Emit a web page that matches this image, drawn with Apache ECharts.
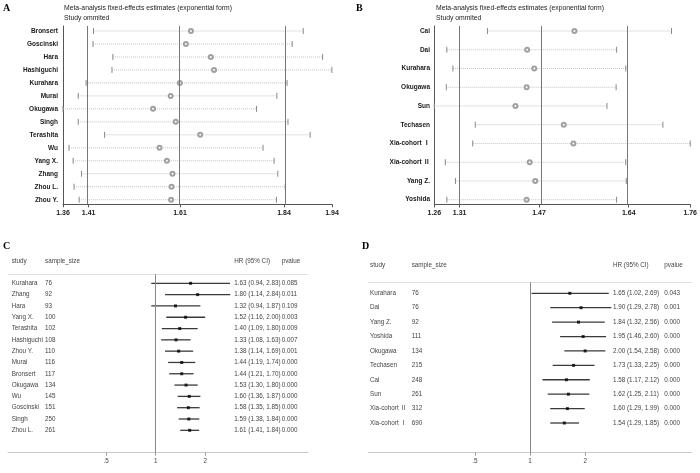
<!DOCTYPE html>
<html>
<head>
<meta charset="utf-8">
<script src="https://cdn.jsdelivr.net/npm/echarts@6/dist/echarts.min.js"></script>
<style>
  html, body { margin: 0; padding: 0; background: #fff; }
  #chart { width: 700px; height: 473px; }
</style>
</head>
<body>
<div id="chart"></div>
<script>
// ---- A: study omitted, 14 studies ----
const studiesA = ['Bronsert', 'Goscinski', 'Hara', 'Hashiguchi', 'Kurahara', 'Murai', 'Okugawa',
  'Singh', 'Terashita', 'Wu', 'Yang X.', 'Zhang', 'Zhou L.', 'Zhou Y.'];
const estA  = [1.635, 1.624, 1.678, 1.685, 1.611, 1.591, 1.553, 1.602, 1.655, 1.567, 1.583, 1.595, 1.593, 1.592];
const lowA  = [1.424, 1.423, 1.466, 1.464, 1.408, 1.391, 1.358, 1.391, 1.448, 1.371, 1.380, 1.398, 1.382, 1.393];
const highA = [1.878, 1.854, 1.920, 1.940, 1.843, 1.821, 1.777, 1.845, 1.893, 1.791, 1.815, 1.823, 1.839, 1.820];
const ticksA = [1.358, 1.4136, 1.6112, 1.8364, 1.9403];
const refA = [1.4136, 1.6112, 1.8364];

// ---- B: study omitted, 10 studies ----
const studiesB = ['Cai', 'Dai', 'Kurahara', 'Okugawa', 'Sun', 'Techasen', 'Xia-cohort Ⅰ', 'Xia-cohort Ⅱ', 'Yang Z.', 'Yoshida'];
const estB  = [1.536, 1.443, 1.457, 1.442, 1.420, 1.515, 1.534, 1.448, 1.459, 1.442];
const lowB  = [1.365, 1.285, 1.297, 1.284, 1.2604, 1.341, 1.336, 1.282, 1.302, 1.285];
const highB = [1.727, 1.619, 1.637, 1.618, 1.600, 1.710, 1.7637, 1.637, 1.638, 1.619];
const ticksB = [1.2604, 1.3102, 1.4663, 1.6428, 1.7637];
const refB = [1.3102, 1.4663, 1.6428];

// ---- C: forest plot, 14 studies ----
const studiesC = ['Kurahara', 'Zhang', 'Hara', 'Yang X.', 'Terashita', 'Hashiguchi', 'Zhou Y.',
  'Murai', 'Bronsert', 'Okugawa', 'Wu', 'Goscinski', 'Singh', 'Zhou L.'];
const sizeC = [76, 92, 93, 100, 102, 108, 110, 116, 117, 134, 145, 151, 250, 261];
const hrC   = [1.63, 1.80, 1.32, 1.52, 1.40, 1.33, 1.38, 1.44, 1.44, 1.53, 1.60, 1.58, 1.59, 1.61];
const lowC  = [0.94, 1.14, 0.94, 1.16, 1.09, 1.08, 1.14, 1.19, 1.21, 1.30, 1.36, 1.35, 1.38, 1.41];
const highC = [2.83, 2.84, 1.87, 2.00, 1.80, 1.63, 1.69, 1.74, 1.70, 1.80, 1.87, 1.85, 1.84, 1.84];
const pC    = ['0.085', '0.011', '0.109', '0.003', '0.009', '0.007', '0.001', '0.000', '0.000', '0.000', '0.000', '0.000', '0.000', '0.000'];

// ---- D: forest plot, 10 studies ----
const studiesD = ['Kurahara', 'Dai', 'Yang Z.', 'Yoshida', 'Okugawa', 'Techasen', 'Cai', 'Sun', 'Xia-cohort Ⅱ', 'Xia-cohort Ⅰ'];
const sizeD = [76, 76, 92, 111, 134, 215, 248, 261, 312, 690];
const hrD   = [1.65, 1.90, 1.84, 1.95, 2.00, 1.73, 1.58, 1.62, 1.60, 1.54];
const lowD  = [1.02, 1.29, 1.32, 1.46, 1.54, 1.33, 1.17, 1.25, 1.29, 1.29];
const highD = [2.69, 2.78, 2.56, 2.60, 2.58, 2.25, 2.12, 2.11, 1.99, 1.85];
const pD    = ['0.043', '0.001', '0.000', '0.000', '0.000', '0.000', '0.000', '0.000', '0.000', '0.000'];

const forestTicks = [0.5, 1, 2];

const FONT = '"Liberation Sans", "Noto Sans CJK SC", Arial, sans-serif';
const rowsOf = arr => arr.map((_, i) => i + 1);
const hrText = (h, l, u) => h.toFixed(2) + ' (' + l.toFixed(2) + ', ' + u.toFixed(2) + ')';

function ciDotted(params, api) {
  const a = api.coord([api.value(0), api.value(2)]);
  const b = api.coord([api.value(1), api.value(2)]);
  return {
    type: 'group',
    children: [
      { type: 'line', shape: { x1: a[0], y1: a[1], x2: b[0], y2: b[1] }, style: { stroke: '#c4c4c4', lineWidth: 1, lineDash: [1, 1] } },
      { type: 'line', shape: { x1: a[0], y1: a[1] - 3, x2: a[0], y2: a[1] + 3 }, style: { stroke: '#888', lineWidth: 1 } },
      { type: 'line', shape: { x1: b[0], y1: b[1] - 3, x2: b[0], y2: b[1] + 3 }, style: { stroke: '#888', lineWidth: 1 } }
    ]
  };
}

function ciSolid(params, api) {
  const a = api.coord([api.value(0), api.value(2)]);
  const b = api.coord([api.value(1), api.value(2)]);
  return { type: 'line', shape: { x1: a[0], y1: a[1], x2: b[0], y2: b[1] }, style: { stroke: '#3a3a3a', lineWidth: 1.3 } };
}

// omitted-study panel axes
function influenceX(grid, ticks) {
  return {
    type: 'value', gridIndex: grid, min: ticks[0], max: ticks[ticks.length - 1],
    axisLine: { lineStyle: { color: '#555', width: 1 } },
    axisTick: { customValues: ticks, length: 3, lineStyle: { color: '#555' } },
    axisLabel: { customValues: ticks, formatter: v => v.toFixed(2), fontFamily: FONT, fontSize: 7, fontWeight: 'bold', color: '#222', margin: 5 },
    splitLine: { show: false }
  };
}
function influenceY(grid, names, min, max, margin) {
  return {
    type: 'value', gridIndex: grid, inverse: true, min: min, max: max,
    axisLine: { show: true, lineStyle: { color: '#555', width: 1 } },
    axisTick: { show: false },
    axisLabel: { customValues: rowsOf(names), formatter: v => names[Math.round(v) - 1], fontFamily: FONT, fontSize: 6.5, fontWeight: 'bold', color: '#1a1a1a', margin: margin },
    splitLine: { show: false }
  };
}

// forest panel axes
function forestX(grid, min, max) {
  return {
    type: 'log', logBase: 10, gridIndex: grid, min: min, max: max, position: 'bottom',
    axisLine: { lineStyle: { color: '#c8c8c8', width: 1 } },
    axisTick: { customValues: forestTicks, length: 3, lineStyle: { color: '#999' } },
    axisLabel: { customValues: forestTicks, formatter: v => (Math.abs(v - 0.5) < 1e-6 ? '.5' : String(Math.round(v))), fontFamily: FONT, fontSize: 6.3, color: '#444', margin: 5 },
    splitLine: { show: false }
  };
}
function forestTop(grid, min, max) {
  return {
    type: 'log', logBase: 10, gridIndex: grid, min: min, max: max, position: 'top',
    axisLine: { lineStyle: { color: '#e0e0e0', width: 1 } },
    axisTick: { show: false }, axisLabel: { show: false }, splitLine: { show: false }
  };
}
function forestCol(grid, texts, min, max, position, margin) {
  return {
    type: 'value', gridIndex: grid, inverse: true, min: min, max: max, position: position,
    axisLine: { show: false }, axisTick: { show: false }, splitLine: { show: false },
    axisLabel: { customValues: rowsOf(texts), formatter: v => String(texts[Math.round(v) - 1]), align: 'left', fontFamily: FONT, fontSize: 6.3, color: '#444', margin: margin }
  };
}

function txt(x, y, text, font, fill, align) {
  return { type: 'text', x: x, y: y, style: { text: text, font: font, fill: fill || '#222', textAlign: align || 'left', textVerticalAlign: 'middle', align: align || 'left', verticalAlign: 'middle' } };
}

const titleFont = '6.8px "Liberation Sans"';
const headFont = '6.3px "Liberation Sans"';
const letterFont = 'bold 10px "Liberation Serif"';

const option = {
  animation: false,
  backgroundColor: '#fff',
  grid: [
    { left: 63, top: 26, width: 269, height: 178.3 },
    { left: 434.3, top: 26, width: 256.7, height: 178.5 },
    { left: 8, top: 274.3, width: 300, height: 178.4 },
    { left: 368.3, top: 282.3, width: 323.4, height: 170.4 }
  ],
  xAxis: [
    influenceX(0, ticksA),
    influenceX(1, ticksB),
    forestX(2, 0.1264, 8.44),
    forestTop(2, 0.1264, 8.44),
    forestX(3, 0.1311, 7.63),
    forestTop(3, 0.1311, 7.63)
  ],
  yAxis: [
    influenceY(0, studiesA, 0.615, 14.354, 5),
    influenceY(1, studiesB, 0.733, 10.256, 4.3),
    forestCol(2, studiesC, 0.204, 15.98, 'left', -3.7),
    forestCol(2, sizeC, 0.204, 15.98, 'left', -37),
    forestCol(2, hrC.map((h, i) => hrText(h, lowC[i], highC[i])), 0.204, 15.98, 'right', -73.7),
    forestCol(2, pC, 0.204, 15.98, 'right', -26.3),
    forestCol(3, studiesD, 0.237, 12.06, 'left', -1.7),
    forestCol(3, sizeD, 0.237, 12.06, 'left', -43.4),
    forestCol(3, hrD.map((h, i) => hrText(h, lowD[i], highD[i])), 0.237, 12.06, 'right', -78.7),
    forestCol(3, pD, 0.237, 12.06, 'right', -27.4)
  ],
  series: [
    // A
    { type: 'custom', xAxisIndex: 0, yAxisIndex: 0, renderItem: ciDotted, encode: { x: [0, 1], y: 2 },
      data: lowA.map((v, i) => [v, highA[i], i + 1]) },
    { type: 'scatter', xAxisIndex: 0, yAxisIndex: 0, symbol: 'emptyCircle', symbolSize: 4,
      itemStyle: { color: '#8a8a8a', borderWidth: 0.9 }, data: estA.map((v, i) => [v, i + 1]),
      markLine: { silent: true, symbol: 'none', label: { show: false }, lineStyle: { color: '#777', width: 1, type: 'solid' },
        data: refA.map(v => ({ xAxis: v })) } },
    // B
    { type: 'custom', xAxisIndex: 1, yAxisIndex: 1, renderItem: ciDotted, encode: { x: [0, 1], y: 2 },
      data: lowB.map((v, i) => [v, highB[i], i + 1]) },
    { type: 'scatter', xAxisIndex: 1, yAxisIndex: 1, symbol: 'emptyCircle', symbolSize: 4,
      itemStyle: { color: '#8a8a8a', borderWidth: 0.9 }, data: estB.map((v, i) => [v, i + 1]),
      markLine: { silent: true, symbol: 'none', label: { show: false }, lineStyle: { color: '#777', width: 1, type: 'solid' },
        data: refB.map(v => ({ xAxis: v })) } },
    // C
    { type: 'custom', xAxisIndex: 2, yAxisIndex: 2, renderItem: ciSolid, encode: { x: [0, 1], y: 2 },
      data: lowC.map((v, i) => [v, highC[i], i + 1]) },
    { type: 'scatter', xAxisIndex: 2, yAxisIndex: 2, symbol: 'rect', symbolSize: 3,
      itemStyle: { color: '#000' }, data: hrC.map((v, i) => [v, i + 1]),
      markLine: { silent: true, symbol: 'none', label: { show: false }, lineStyle: { color: '#888', width: 1, type: 'solid' },
        data: [{ xAxis: 1 }] } },
    // D
    { type: 'custom', xAxisIndex: 4, yAxisIndex: 6, renderItem: ciSolid, encode: { x: [0, 1], y: 2 },
      data: lowD.map((v, i) => [v, highD[i], i + 1]) },
    { type: 'scatter', xAxisIndex: 4, yAxisIndex: 6, symbol: 'rect', symbolSize: 3,
      itemStyle: { color: '#000' }, data: hrD.map((v, i) => [v, i + 1]),
      markLine: { silent: true, symbol: 'none', label: { show: false }, lineStyle: { color: '#888', width: 1, type: 'solid' },
        data: [{ xAxis: 1 }] } }
  ],
  graphic: [
    txt(3, 8, 'A', letterFont, '#000'),
    txt(64, 8.3, 'Meta-analysis fixed-effects estimates (exponential form)', titleFont),
    txt(64, 18.3, 'Study ommited', titleFont),
    txt(356, 8, 'B', letterFont, '#000'),
    txt(436, 8.3, 'Meta-analysis fixed-effects estimates (exponential form)', titleFont),
    txt(436, 18.3, 'Study ommited', titleFont),
    txt(3, 246, 'C', letterFont, '#000'),
    txt(11.7, 261.7, 'study', headFont, '#444'),
    txt(45, 261.7, 'sample_size', headFont, '#444'),
    txt(234.3, 261.7, 'HR (95% CI)', headFont, '#444'),
    txt(281.7, 261.7, 'pvalue', headFont, '#444'),
    txt(362, 246, 'D', letterFont, '#000'),
    txt(370, 265, 'study', headFont, '#444'),
    txt(411.7, 265, 'sample_size', headFont, '#444'),
    txt(613, 265, 'HR (95% CI)', headFont, '#444'),
    txt(664.3, 265, 'pvalue', headFont, '#444')
  ]
};

const chart = echarts.init(document.getElementById('chart'), null, { renderer: 'canvas' });
chart.setOption(option);
window.addEventListener('resize', () => chart.resize());
</script>
</body>
</html>
